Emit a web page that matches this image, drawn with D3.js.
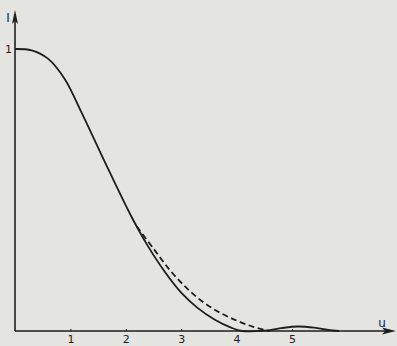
<!DOCTYPE html>
<html>
<head>
<meta charset="utf-8">
<script src="https://cdn.jsdelivr.net/npm/d3@7"></script>
<style>
  html, body { margin: 0; padding: 0; background: #e4e4e1; }
  svg { display: block; }
</style>
</head>
<body>
<div id="chart"></div>
<script>
// solid curve: intensity vs u
const uSolid = [0, 0.3, 0.6, 0.9, 1.2, 1.5, 1.8, 2.1, 2.4, 2.7, 3.0, 3.3, 3.6, 3.9, 4.1, 4.5, 4.8, 5.1, 5.4, 5.65, 5.85];
const iSolid = [1, 0.995, 0.965, 0.893, 0.775, 0.65, 0.526, 0.406, 0.301, 0.211, 0.136, 0.081, 0.041, 0.012, 0, 0.001, 0.01, 0.016, 0.012, 0.004, 0];
// dashed curve (separates from solid near u = 2.2)
const uDashed = [2.2, 2.5, 2.8, 3.1, 3.4, 3.7, 4.0, 4.3, 4.6];
const iDashed = [0.37, 0.292, 0.215, 0.152, 0.102, 0.065, 0.037, 0.015, 0];
const xTicks = [1, 2, 3, 4, 5];
const yTicks = [1];

const width = 397, height = 346;
const ink = "#1e1e1e";

const svg = d3.select("#chart").append("svg")
  .attr("width", width)
  .attr("height", height);

svg.append("rect").attr("width", width).attr("height", height).attr("fill", "#e4e4e1");

const x = d3.scaleLinear().domain([0, 5]).range([15, 292]);
const y = d3.scaleLinear().domain([0, 1]).range([331, 49]);

// axes lines with arrows
svg.append("line")
  .attr("x1", x(0)).attr("y1", y(0)).attr("x2", 392).attr("y2", y(0))
  .attr("stroke", ink).attr("stroke-width", 1.6);
svg.append("path")
  .attr("d", `M396,${y(0)} L382,${y(0) - 3.5} L385,${y(0)} L382,${y(0) + 3.5} Z`)
  .attr("fill", ink);
svg.append("line")
  .attr("x1", x(0)).attr("y1", y(0)).attr("x2", x(0)).attr("y2", 16)
  .attr("stroke", ink).attr("stroke-width", 1.6);
svg.append("path")
  .attr("d", `M${x(0)},10 L${x(0) - 3},24 L${x(0)},21 L${x(0) + 3},24 Z`)
  .attr("fill", ink);

const gx = svg.append("g")
  .attr("transform", `translate(0,${y(0)})`)
  .call(d3.axisBottom(x).tickValues(xTicks).tickSize(-2).tickPadding(4).tickFormat(d3.format("d")));
gx.select(".domain").remove();
gx.selectAll("line").attr("stroke", ink);
gx.selectAll("text").attr("fill", ink).style("font-family", "DejaVu Sans").style("font-size", "11px");

const gy = svg.append("g")
  .attr("transform", `translate(${x(0)},0)`)
  .call(d3.axisLeft(y).tickValues(yTicks).tickSize(0).tickPadding(3).tickFormat(d3.format("d")));
gy.select(".domain").remove();
gy.selectAll("text").attr("fill", ink).style("font-family", "DejaVu Sans").style("font-size", "11px");

svg.append("text").attr("x", 8).attr("y", 22).attr("text-anchor", "middle")
  .attr("fill", ink).style("font-family", "DejaVu Sans").style("font-size", "12px").text("I");
svg.append("text").attr("x", 382).attr("y", 327).attr("text-anchor", "middle")
  .attr("fill", ink).style("font-family", "DejaVu Sans").style("font-size", "12px").text("u");

const line = d3.line()
  .x(d => x(d[0]))
  .y(d => y(d[1]))
  .curve(d3.curveCatmullRom.alpha(0.5));

svg.append("path")
  .datum(d3.zip(uSolid, iSolid))
  .attr("d", line)
  .attr("fill", "none")
  .attr("stroke", ink)
  .attr("stroke-width", 1.8);

svg.append("path")
  .datum(d3.zip(uDashed, iDashed))
  .attr("d", line)
  .attr("fill", "none")
  .attr("stroke", ink)
  .attr("stroke-width", 1.8)
  .attr("stroke-dasharray", "6,3.5");
</script>
</body>
</html>
